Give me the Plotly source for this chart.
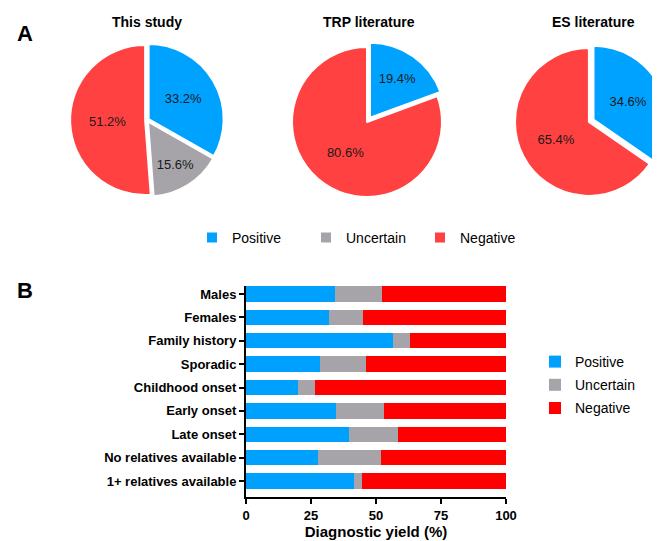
import plotly.graph_objects as go

# ---- Data ----
pie_labels = ["Positive", "Uncertain", "Negative"]
this_study = [33.2, 15.6, 51.2]
trp_labels = ["Positive", "Negative"]
trp_values = [19.4, 80.6]
es_labels = ["Positive", "Negative"]
es_values = [34.6, 65.4]

categories = ["Males", "Females", "Family history", "Sporadic", "Childhood onset",
              "Early onset", "Late onset", "No relatives available", "1+ relatives available"]
positive = [34.2, 31.8, 56.5, 28.6, 20.1, 34.6, 39.6, 27.7, 41.4]
uncertain = [18.1, 13.1, 6.6, 17.4, 6.4, 18.5, 18.9, 24.1, 3.2]
negative = [47.7, 55.1, 36.9, 54.0, 73.5, 46.9, 41.5, 48.2, 55.4]

# ---- Style ----
W, H = 660, 541
OFF = 8  # page offset of the figure inside the browser window
FONT = "Liberation Sans, Arial, Helvetica, sans-serif"
pie_colors = {"Positive": "#00A2FF", "Uncertain": "#A6A4A9", "Negative": "#FF4141"}
bar_colors = {"Positive": "#00A0FF", "Uncertain": "#A6A4A9", "Negative": "#FF0000"}


def clamp(v):
    return max(0.0, min(1.0, v))


def fx(px):  # screen x pixel -> paper fraction
    return (px - OFF) / W


def fy(py):  # screen y pixel -> paper fraction
    return 1 - (py - OFF) / H


def px_dom(cx, cy, half):
    return dict(x=[clamp(fx(cx - half)), clamp(fx(cx + half))],
                y=[clamp(fy(cy + half)), clamp(fy(cy - half))])


fig = go.Figure()

pies = [
    (pie_labels, this_study, (147, 120, 75 * 1.025), [0.025, 0.025, 0.025]),
    (trp_labels, trp_values, (367, 122, 75 * 1.07), [0.07, 0]),
    (es_labels, es_values, (589, 122, 74 * 1.07), [0.07, 0]),
]
for labels, vals, (cx, cy, half), pull in pies:
    fig.add_trace(go.Pie(
        labels=labels, values=vals,
        text=[f"{v:.1f}%" for v in vals], textinfo="text",
        textposition="inside", insidetextorientation="horizontal",
        textfont=dict(family=FONT, size=13, color="#1a1a1a"),
        marker=dict(colors=[pie_colors[l] for l in labels],
                    line=dict(color="white", width=2)),
        sort=False, direction="clockwise", rotation=0, pull=pull,
        domain=px_dom(cx, cy, half), legend="legend", hoverinfo="skip",
    ))

for name, vals in [("Positive", positive), ("Uncertain", uncertain), ("Negative", negative)]:
    fig.add_trace(go.Bar(
        y=categories, x=vals, name=name, orientation="h",
        marker=dict(color=bar_colors[name], line=dict(width=0)),
        legend="legend2", legendgroup=name, xaxis="x", yaxis="y",
    ))

fig.update_layout(
    width=W, height=H,
    margin=dict(l=0, r=0, t=0, b=0),
    paper_bgcolor="white", plot_bgcolor="white",
    font=dict(family=FONT, color="black"),
    barmode="stack", bargap=0.345,
    xaxis=dict(domain=[fx(246), fx(506)], range=[0, 100], tickvals=[0, 25, 50, 75, 100],
               showline=True, linecolor="black", linewidth=2, ticks="outside",
               ticklen=5, tickwidth=2, tickcolor="black", showgrid=False, zeroline=False,
               automargin=False,
               tickfont=dict(size=13, weight="bold", family=FONT),
               title=dict(text="Diagnostic yield (%)", standoff=3,
                          font=dict(size=15, weight="bold", family=FONT))),
    yaxis=dict(domain=[fy(497), fy(286)], type="category",
               categoryorder="array", categoryarray=categories,
               range=[8.684, -0.342], automargin=False,
               showline=True, linecolor="black", linewidth=2, ticks="outside",
               ticklen=5, tickwidth=2, tickcolor="black", showgrid=False,
               tickfont=dict(size=13, weight="bold", family=FONT)),
    legend=dict(orientation="h", x=fx(192), y=fy(222), xanchor="left", yanchor="top",
                font=dict(size=14, family=FONT), entrywidth=69, entrywidthmode="pixels",
                traceorder="normal"),
    legend2=dict(x=fx(535), y=fy(346), xanchor="left", yanchor="top",
                 font=dict(size=14, family=FONT), traceorder="grouped", tracegroupgap=2),
    annotations=[
        dict(text="<b>This study</b>", x=fx(147), y=fy(22), xref="paper", yref="paper",
             xanchor="center", yanchor="middle", showarrow=False, font=dict(size=14, family=FONT)),
        dict(text="<b>TRP literature</b>", x=fx(369), y=fy(22), xref="paper", yref="paper",
             xanchor="center", yanchor="middle", showarrow=False, font=dict(size=14, family=FONT)),
        dict(text="<b>ES literature</b>", x=fx(593), y=fy(22), xref="paper", yref="paper",
             xanchor="center", yanchor="middle", showarrow=False, font=dict(size=14, family=FONT)),
        dict(text="<b>A</b>", x=fx(25), y=fy(34), xref="paper", yref="paper",
             xanchor="center", yanchor="middle", showarrow=False, font=dict(size=22, family=FONT)),
        dict(text="<b>B</b>", x=fx(25), y=fy(290), xref="paper", yref="paper",
             xanchor="center", yanchor="middle", showarrow=False, font=dict(size=22, family=FONT)),
    ],
)

fig.write_html("out.html")
